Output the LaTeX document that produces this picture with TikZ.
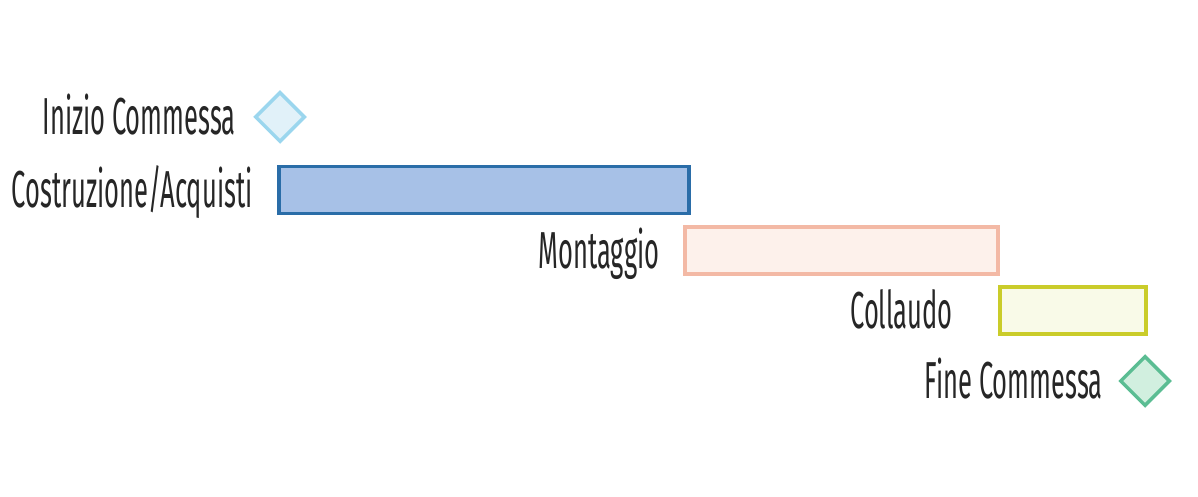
\documentclass[tikz,border=0pt]{standalone}
\usepackage{fontspec}
\setmainfont{Fira Sans}[FakeStretch=0.49]
\usepackage{tikz}
\usetikzlibrary{shapes.geometric,positioning}
\definecolor{startline}{HTML}{9BD6EE}
\definecolor{startfill}{HTML}{E1F1F9}
\definecolor{buildline}{HTML}{2A6DA8}
\definecolor{buildfill}{HTML}{A7C1E7}
\definecolor{mountline}{HTML}{F3B9A5}
\definecolor{mountfill}{HTML}{FDF1EB}
\definecolor{testline}{HTML}{CACC2A}
\definecolor{testfill}{HTML}{F9FAE8}
\definecolor{endline}{HTML}{5BBD93}
\definecolor{endfill}{HTML}{D1EFDF}

\tikzset{
	phase/.style={draw, rectangle, inner sep=0pt, minimum height=0.47cm, line width=1pt},
	milestone/.style={draw, diamond, inner sep=0pt, minimum width=0.5cm, minimum height=0.5cm, line width=1pt},
	tasklabel/.style={inner sep=0pt, font=\fontsize{14.8}{16}\selectfont, text height=10pt, text depth=0pt, text=black!85}
}

\begin{document}
\begin{tikzpicture}
	\useasboundingbox (0,0) rectangle (11.98,-4.97);
	% milestones and phases
	\node[milestone, draw=startline, fill=startfill] (start) at (2.80,-1.17) {};
	\node[phase, draw=buildline, fill=buildfill, minimum width=4.10cm] (build) at (4.84,-1.90) {};
	\node[phase, draw=mountline, fill=mountfill, minimum width=3.13cm] (mount) at (8.415,-2.505) {};
	\node[phase, draw=testline, fill=testfill, minimum width=1.46cm] (test) at (10.73,-3.105) {};
	\node[milestone, draw=endline, fill=endfill] (finish) at (11.45,-3.81) {};
	% labels
	\node[tasklabel, left=0.17cm of start] (startlabel) {Inizio Commessa};
	\node[tasklabel, left=0.24cm of build] (buildlabel) {Costruzione/Acquisti};
	\node[tasklabel, left=0.23cm of mount] (mountlabel) {Montaggio};
	\node[tasklabel, left=0.45cm of test] (testlabel) {Collaudo};
	\node[tasklabel, left=0.15cm of finish] (finishlabel) {Fine Commessa};
\end{tikzpicture}
\end{document}
